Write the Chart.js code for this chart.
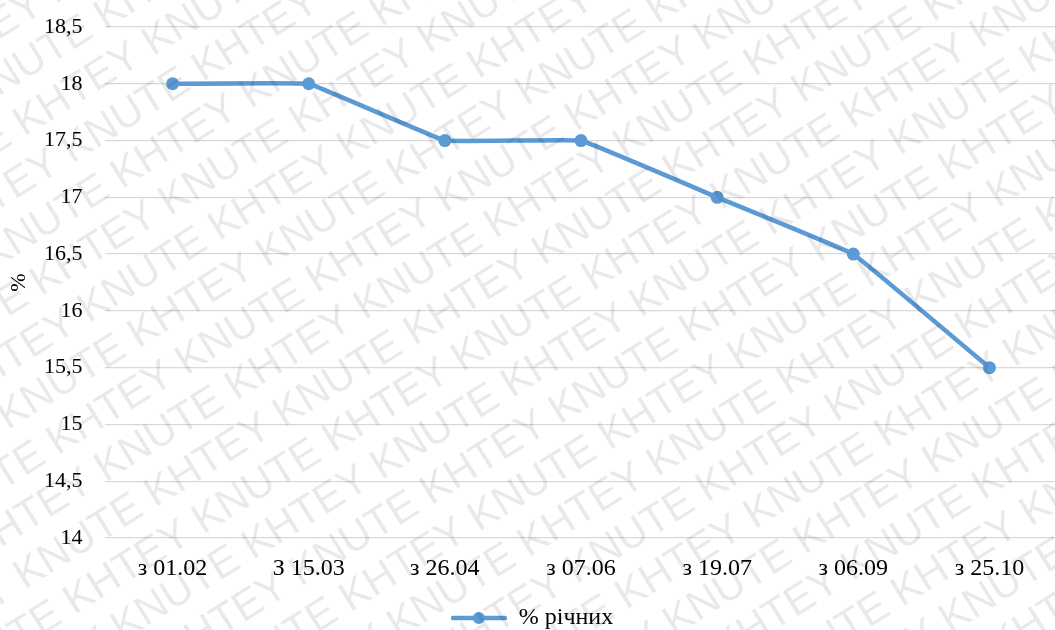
<!DOCTYPE html>
<html>
<head>
<meta charset="utf-8">
<script src="https://cdn.jsdelivr.net/npm/chart.js@4/dist/chart.umd.min.js"></script>
<style>
  html, body { margin: 0; padding: 0; background: #ffffff; overflow: hidden; }
  #wrap { position: relative; width: 1064px; height: 630px; }
  #warm { position: absolute; left: -9999px; top: 0; font: 24px 'Liberation Serif'; }
</style>
</head>
<body>
<div id="warm">з 01.02 % річних 18,5</div>
<div id="wrap"><canvas id="chart"></canvas></div>
<script>
// Interest rate steps, % per year
const categories = ['з 01.02', 'З 15.03', 'з 26.04', 'з 07.06', 'з 19.07', 'з 06.09', 'з 25.10'];
const rates = [18, 18, 17.5, 17.5, 17, 16.5, 15.5];
const seriesName = '% річних';
const axisTitle = '%';
const watermarkWords = 'KHTEY KNUTE ';

const FONT = "'Liberation Serif', 'Times New Roman', serif";
const FONT_SIZE = 24;
const Y_FONT_SIZE = 22;
const BLUE = '#5b9bd5';
const LEGEND_PAD = 6;

Chart.defaults.font.family = FONT;
Chart.defaults.color = '#000';

// legend marker: short line with a dot in the middle
function legendMarker() {
  const c = document.createElement('canvas');
  c.width = 56; c.height = 14;
  const g = c.getContext('2d');
  g.strokeStyle = BLUE; g.lineWidth = 4.5; g.lineCap = 'round';
  g.beginPath(); g.moveTo(2, 7); g.lineTo(54, 7); g.stroke();
  g.fillStyle = BLUE;
  g.beginPath(); g.arc(28, 7, 6, 0, Math.PI * 2); g.fill();
  return c;
}

// diagonal background text over the whole page
const watermark = {
  id: 'watermark',
  afterDraw(chart) {
    const ctx = chart.ctx;
    const w = chart.width, h = chart.height;
    ctx.save();
    ctx.fillStyle = 'rgba(0,0,0,0.085)';
    ctx.font = "42px 'Liberation Sans', Arial, sans-serif";
    ctx.textBaseline = 'alphabetic';
    ctx.translate(w / 2, h / 2);
    ctx.rotate(-32 * Math.PI / 180);
    const line = watermarkWords.repeat(12);
    const lw = ctx.measureText(line).width;
    const unit = ctx.measureText(watermarkWords).width;
    let row = 0;
    for (let y = -900; y <= 900; y += 48) {
      const off = ((row * 0.41) % 1) * unit;
      ctx.fillText(line, -lw / 2 - off, y);
      row++;
    }
    ctx.restore();
  }
};

const chart = new Chart(document.getElementById('chart'), {
  type: 'line',
  data: {
    labels: categories,
    datasets: [{
      label: seriesName,
      data: rates,
      borderColor: BLUE,
      backgroundColor: BLUE,
      borderWidth: 4.5,
      pointRadius: 6.5,
      pointHoverRadius: 6.5,
      pointBackgroundColor: BLUE,
      pointBorderWidth: 0,
      tension: 0.05,
      pointStyle: 'circle'
    }]
  },
  options: {
    responsive: true,
    maintainAspectRatio: false,
    animation: false,
    layout: { padding: { top: 27, left: 0, right: 0, bottom: -10 } },
    plugins: {
      tooltip: { enabled: false },
      legend: {
        position: 'bottom',
        labels: {
          color: '#000',
          font: { family: FONT, size: FONT_SIZE },
          usePointStyle: true,
          pointStyle: legendMarker(),
          pointStyleWidth: 56,
          padding: LEGEND_PAD
        }
      }
    },
    scales: {
      x: {
        offset: true,
        grid: { display: false },
        border: { display: false },
        ticks: {
          color: '#000',
          font: { family: FONT, size: FONT_SIZE },
          padding: 8,
          maxRotation: 0,
          autoSkip: false
        },
        afterFit(scale) {
          // plot bottom sits at 538 px; legend box = font + padding + 10
          scale.height = 640 - (FONT_SIZE + LEGEND_PAD + 10) - 538;
          scale.paddingLeft = 0; scale.paddingRight = 0;
        }
      },
      y: {
        min: 14,
        max: 18.5,
        grid: { color: '#d9d9d9', lineWidth: 1.3, drawTicks: false },
        border: { display: false },
        ticks: {
          stepSize: 0.5,
          color: '#000',
          font: { family: FONT, size: Y_FONT_SIZE },
          padding: 22,
          callback: v => String(v).replace('.', ',')
        },
        title: {
          display: true,
          text: axisTitle,
          color: '#000',
          font: { family: FONT, size: Y_FONT_SIZE },
          padding: { top: 6, bottom: 4 }
        },
        afterFit(scale) {
          scale.width = 104.5;
          scale.paddingTop = 0; scale.paddingBottom = 0;
        }
      }
    }
  },
  plugins: [watermark]
});

if (document.fonts && document.fonts.ready) {
  document.fonts.ready.then(() => chart.update());
}
</script>
</body>
</html>
